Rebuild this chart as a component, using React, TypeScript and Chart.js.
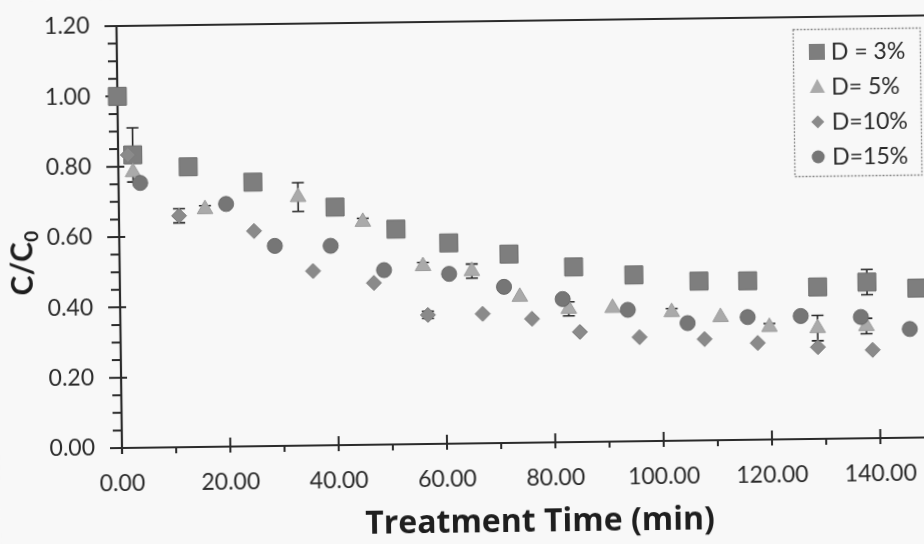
import React, { useEffect, useRef } from "react";
import { Chart, registerables } from "chart.js";

Chart.register(...registerables);

// ---------- data ----------
const seriesNames = ["D = 3%", "D= 5%", "D=10%", "D=15%"];

const d3Time = [0, 2.7, 12.9, 24.8, 39.9, 51.1, 60.8, 71.9, 83.8, 94.9, 106.9, 115.9, 128.8, 137.9, 147.1];
const d3Ratio = [1.0, 0.833, 0.797, 0.751, 0.677, 0.612, 0.571, 0.537, 0.498, 0.473, 0.453, 0.452, 0.432, 0.444, 0.425];
const d3Err = [0, 0.077, 0, 0, 0, 0, 0, 0, 0, 0, 0, 0, 0, 0.036, 0];

const d5Time = [2.7, 15.9, 33.1, 45.0, 56.0, 65.0, 73.8, 82.8, 90.9, 101.8, 110.8, 119.8, 128.7, 137.7];
const d5Ratio = [0.784, 0.676, 0.707, 0.634, 0.506, 0.49, 0.415, 0.379, 0.38, 0.366, 0.35, 0.32, 0.315, 0.319];
const d5Err = [0, 0.01, 0.041, 0.01, 0.01, 0.02, 0, 0.02, 0, 0.01, 0, 0.01, 0.036, 0.022];

const d10Time = [1.8, 11.1, 24.9, 35.7, 46.9, 56.8, 66.9, 76.0, 84.8, 95.8, 107.8, 117.6, 128.7, 138.8];
const d10Ratio = [0.833, 0.658, 0.612, 0.496, 0.46, 0.367, 0.368, 0.352, 0.313, 0.296, 0.288, 0.275, 0.261, 0.251];
const d10Err = [0, 0.02, 0, 0, 0, 0.01, 0, 0, 0, 0, 0, 0, 0, 0];

const d15Time = [4.0, 19.8, 28.7, 39.0, 48.8, 60.8, 70.9, 81.7, 93.7, 104.7, 115.8, 125.6, 136.7, 145.7];
const d15Ratio = [0.753, 0.69, 0.569, 0.567, 0.496, 0.483, 0.444, 0.407, 0.374, 0.334, 0.349, 0.35, 0.345, 0.309];
const d15Err = [0, 0, 0, 0, 0, 0, 0, 0, 0, 0, 0, 0, 0, 0];

const xTicks = [0, 20, 40, 60, 80, 100, 120, 140];
const xMinorTicks = [10, 30, 50, 70, 90, 110, 130, 150];
const yTicks = [0, 0.2, 0.4, 0.6, 0.8, 1.0, 1.2];
const yMinorTicks = [0.05, 0.1, 0.15, 0.25, 0.3, 0.35, 0.45, 0.5, 0.55, 0.65, 0.7, 0.75, 0.85, 0.9, 0.95, 1.05, 1.1, 1.15];

const xTitle = "Treatment Time (min)";
const yTitleMain = "C/C";
const yTitleSub = "0";

// ---------- styles ----------
const BG = "#f8f8f8";
const AXIS = "#2b2b2b";
const TEXT = "#2a2a2a";
const COLORS = ["#7e7e7e", "#aaaaaa", "#8a8a8a", "#767676"];
const BORDERS = ["#6c6c6c", "#9c9c9c", "#7c7c7c", "#686868"];
const STYLES = ["rect", "triangle", "rectRot", "circle"];
const RADII = [12.7, 9, 7.5, 7.5];
const errorSets = [d3Err, d5Err, d10Err, d15Err];

const CW = 940;
const CH = 560;

const toPoints = (xs: number[], ys: number[]) => xs.map((x, i) => ({ x, y: ys[i] }));

function drawMarker(ctx: CanvasRenderingContext2D, style: string, x: number, y: number, r: number) {
  ctx.beginPath();
  if (style === "rect") {
    ctx.rect(x - r, y - r, 2 * r, 2 * r);
  } else if (style === "triangle") {
    ctx.moveTo(x, y - r);
    ctx.lineTo(x + r * 0.95, y + r * 0.75);
    ctx.lineTo(x - r * 0.95, y + r * 0.75);
    ctx.closePath();
  } else if (style === "rectRot") {
    ctx.moveTo(x, y - r);
    ctx.lineTo(x + r, y);
    ctx.lineTo(x, y + r);
    ctx.lineTo(x - r, y);
    ctx.closePath();
  } else {
    ctx.arc(x, y, r, 0, Math.PI * 2);
  }
  ctx.fill();
}

const bgPlugin = {
  id: "bg",
  beforeDraw(chart: any) {
    const { ctx, width, height } = chart;
    ctx.save();
    ctx.fillStyle = BG;
    ctx.fillRect(0, 0, width, height);
    ctx.restore();
  },
};

const axesPlugin = {
  id: "axesLines",
  beforeDatasetsDraw(chart: any) {
    const { ctx, chartArea: a } = chart;
    const xs = chart.scales.x;
    const ys = chart.scales.y;
    ctx.save();
    ctx.strokeStyle = AXIS;
    ctx.lineWidth = 2.2;
    ctx.beginPath();
    ctx.moveTo(a.left - 12, a.top);
    ctx.lineTo(a.right, a.top);
    ctx.moveTo(a.left, a.top);
    ctx.lineTo(a.left, a.bottom + 6);
    ctx.moveTo(a.left - 12, a.bottom);
    ctx.lineTo(a.right, a.bottom);
    ctx.stroke();
    ctx.lineWidth = 2;
    ctx.beginPath();
    yTicks.forEach((v) => {
      const p = ys.getPixelForValue(v);
      ctx.moveTo(a.left - 12, p);
      ctx.lineTo(a.left + 6, p);
    });
    yMinorTicks.forEach((v) => {
      const p = ys.getPixelForValue(v);
      ctx.moveTo(a.left - 9, p);
      ctx.lineTo(a.left, p);
    });
    xTicks.forEach((v) => {
      const p = xs.getPixelForValue(v);
      ctx.moveTo(p, a.bottom - 9);
      ctx.lineTo(p, a.bottom + 6);
    });
    xMinorTicks.forEach((v) => {
      const p = xs.getPixelForValue(v);
      ctx.moveTo(p, a.bottom);
      ctx.lineTo(p, a.bottom + 6);
    });
    ctx.stroke();
    ctx.restore();
  },
};

const errorBarPlugin = {
  id: "errorBars",
  beforeDatasetsDraw(chart: any) {
    const { ctx } = chart;
    const xs = chart.scales.x;
    const ys = chart.scales.y;
    ctx.save();
    ctx.strokeStyle = "#262626";
    ctx.lineWidth = 1.6;
    chart.data.datasets.forEach((ds: any, di: number) => {
      const errs = errorSets[di];
      ds.data.forEach((p: any, i: number) => {
        const e = errs[i];
        if (!e) return;
        const px = xs.getPixelForValue(p.x);
        const t = ys.getPixelForValue(p.y + e);
        const b = ys.getPixelForValue(p.y - e);
        ctx.beginPath();
        ctx.moveTo(px, t);
        ctx.lineTo(px, b);
        ctx.moveTo(px - 6, t);
        ctx.lineTo(px + 6, t);
        ctx.moveTo(px - 6, b);
        ctx.lineTo(px + 6, b);
        ctx.stroke();
      });
    });
    ctx.restore();
  },
};

const legendPlugin = {
  id: "customLegend",
  afterDraw(chart: any) {
    const { ctx } = chart;
    ctx.save();
    const bx = 798.5, by = 38.5, bw = 127, bh = 147;
    ctx.fillStyle = BG;
    ctx.fillRect(bx, by, bw, bh);
    ctx.strokeStyle = "#8a8a8a";
    ctx.lineWidth = 1.3;
    ctx.setLineDash([2, 1.5]);
    ctx.strokeRect(bx, by, bw, bh);
    ctx.setLineDash([]);
    const rowY = [61, 96, 131, 166];
    const markR = [8, 8, 6.5, 6.5];
    seriesNames.forEach((name, i) => {
      ctx.fillStyle = COLORS[i];
      drawMarker(ctx, STYLES[i], 822, rowY[i], markR[i]);
      ctx.fillStyle = TEXT;
      ctx.font = '23px Lato';
      ctx.textAlign = "left";
      ctx.textBaseline = "middle";
      ctx.fillText(name, 836, rowY[i] + 1);
    });
    ctx.restore();
  },
};

const titlePlugin = {
  id: "axisTitles",
  afterDraw(chart: any) {
    const { ctx } = chart;
    ctx.save();
    ctx.fillStyle = "#1e1e1e";
    ctx.font = 'bold 32px "Open Sans"';
    ctx.textAlign = "center";
    ctx.textBaseline = "alphabetic";
    ctx.fillText(xTitle, 539, 537);

    ctx.translate(35, 262);
    ctx.rotate(-Math.PI / 2);
    ctx.font = "bold 30px Lato";
    const wMain = ctx.measureText(yTitleMain).width;
    ctx.font = "bold 19px Lato";
    const wSub = ctx.measureText(yTitleSub).width;
    const start = -(wMain + wSub) / 2;
    ctx.textAlign = "left";
    ctx.font = "bold 30px Lato";
    ctx.fillText(yTitleMain, start, 0);
    ctx.font = "bold 19px Lato";
    ctx.fillText(yTitleSub, start + wMain, 6);
    ctx.restore();
  },
};

export default function App() {
  const ref = useRef<HTMLCanvasElement>(null);
  useEffect(() => {
    document.documentElement.style.overflow = "hidden";
    document.body.style.margin = "0";
    document.body.style.overflow = "hidden";
    document.body.style.background = BG;
    const canvas = ref.current;
    if (!canvas) return;
    const dataSets = [
      toPoints(d3Time, d3Ratio),
      toPoints(d5Time, d5Ratio),
      toPoints(d10Time, d10Ratio),
      toPoints(d15Time, d15Ratio),
    ];
    const chart = new Chart(canvas, {
      type: "scatter",
      data: {
        datasets: dataSets.map((data, i) => ({
          label: seriesNames[i],
          data,
          pointStyle: STYLES[i] as any,
          pointRadius: RADII[i],
          pointHoverRadius: RADII[i],
          backgroundColor: COLORS[i],
          borderColor: BORDERS[i],
          borderWidth: 1,
          showLine: false,
          clip: false as any,
          order: 3 - i,
        })),
      },
      options: {
        responsive: false,
        maintainAspectRatio: false,
        animation: false,
        devicePixelRatio: 1,
        layout: { autoPadding: false, padding: { top: 26, right: 0, left: 0, bottom: 0 } },
        plugins: { legend: { display: false }, tooltip: { enabled: false } },
        scales: {
          x: {
            type: "linear",
            min: 0,
            max: 151,
            afterBuildTicks: (s: any) => {
              s.ticks = xTicks.map((v) => ({ value: v }));
            },
            afterFit: (s: any) => {
              s.height = CH - 448;
              s.paddingRight = 0;
            },
            grid: { display: false, drawTicks: false },
            border: { display: false },
            ticks: {
              padding: 22,
              autoSkip: false,
              maxRotation: 0,
              minRotation: 0,
              color: TEXT,
              font: { family: "Lato", size: 23 },
              callback: (v: any) => Number(v).toFixed(2),
            },
          },
          y: {
            type: "linear",
            min: 0,
            max: 1.2,
            afterBuildTicks: (s: any) => {
              s.ticks = yTicks.map((v) => ({ value: v }));
            },
            afterFit: (s: any) => {
              s.width = 122;
              s.paddingTop = 0;
              s.paddingBottom = 0;
            },
            grid: { display: false, drawTicks: false },
            border: { display: false },
            ticks: {
              padding: 27,
              autoSkip: false,
              color: TEXT,
              font: { family: "Lato", size: 23 },
              callback: (v: any) => Number(v).toFixed(2),
            },
          },
        },
      },
      plugins: [bgPlugin, axesPlugin, errorBarPlugin, legendPlugin, titlePlugin],
    } as any);
    return () => chart.destroy();
  }, []);
  return (
    <div
      style={{
        position: "relative",
        width: CW,
        height: CH,
        transform: "rotate(-0.75deg)",
        transformOrigin: "122px 448px",
      }}
    >
      <canvas ref={ref} width={CW} height={CH} style={{ display: "block", width: CW, height: CH }} />
    </div>
  );
}
